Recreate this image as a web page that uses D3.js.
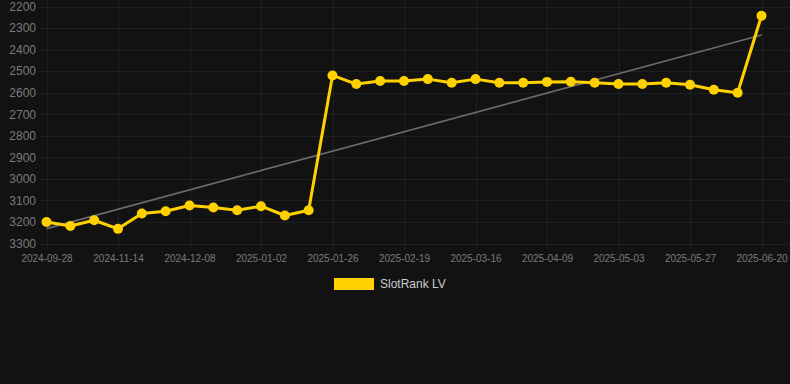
<!DOCTYPE html>
<html>
<head>
<meta charset="utf-8">
<script src="https://cdn.jsdelivr.net/npm/d3@7"></script>
<style>
  html, body { margin: 0; padding: 0; background: #121212; }
  svg { display: block; font-family: "Liberation Sans", Arial, Helvetica, sans-serif; }
</style>
</head>
<body>
<svg id="chart" width="790" height="384"></svg>
<script>
const dates = [
  "2024-09-28", "2024-10-14", "2024-10-29", "2024-11-14", "2024-11-22", "2024-11-30",
  "2024-12-08", "2024-12-16", "2024-12-24", "2025-01-02", "2025-01-10", "2025-01-18",
  "2025-01-26", "2025-02-03", "2025-02-11", "2025-02-19", "2025-02-27", "2025-03-08",
  "2025-03-16", "2025-03-24", "2025-04-01", "2025-04-09", "2025-04-17", "2025-04-25",
  "2025-05-03", "2025-05-11", "2025-05-19", "2025-05-27", "2025-06-04", "2025-06-12",
  "2025-06-20"
];
const rankValues = [
  3200, 3219, 3192, 3232, 3161, 3150,
  3124, 3133, 3146, 3127, 3170, 3146,
  2520, 2560, 2546, 2546, 2537, 2554,
  2537, 2554, 2554, 2550, 2549, 2554,
  2560, 2560, 2554, 2563, 2586, 2600,
  2243
];
const yTicks = [2200, 2300, 2400, 2500, 2600, 2700, 2800, 2900, 3000, 3100, 3200, 3300];
const seriesName = "SlotRank LV";

const W = 790, H = 384;
const svg = d3.select("#chart");
const x = d3.scalePoint().domain(dates).range([46.5, 761.5]);
const y = d3.scaleLinear().domain([2200, 3300]).range([6.5, 243.5]);

const gridColor = "rgba(255,255,255,0.06)";
const labelColor = "#7a7a7a";
const yellow = "#ffd100";

// horizontal grid
svg.append("g").selectAll("line").data(yTicks).join("line")
  .attr("x1", 40).attr("x2", W)
  .attr("y1", d => Math.round(y(d)) + 0.5).attr("y2", d => Math.round(y(d)) + 0.5)
  .attr("stroke", gridColor).attr("stroke-width", 1);

// vertical grid at labelled categories
const labelled = dates.filter((d, i) => i % 3 === 0);
svg.append("g").selectAll("line").data(labelled).join("line")
  .attr("x1", d => Math.round(x(d)) + 0.5).attr("x2", d => Math.round(x(d)) + 0.5)
  .attr("y1", 0).attr("y2", 249)
  .attr("stroke", gridColor).attr("stroke-width", 1);

// y axis labels
const yAxis = d3.axisLeft(y).tickValues(yTicks).tickSize(0).tickPadding(0).tickFormat(d3.format("d"));
const gy = svg.append("g").attr("transform", "translate(36,0)").call(yAxis);
gy.select(".domain").remove();
gy.selectAll("text").attr("fill", labelColor).style("font-size", "12px")
  .style("font-family", '"Liberation Sans", Arial, sans-serif');

// x axis labels
const xAxis = d3.axisBottom(x).tickValues(labelled).tickSize(0).tickPadding(0);
const gx = svg.append("g").attr("transform", "translate(0,255)").call(xAxis);
gx.select(".domain").remove();
gx.selectAll("text").attr("fill", labelColor).style("font-size", "10px")
  .style("font-family", '"Liberation Sans", Arial, sans-serif');

// trend line (least squares)
const n = rankValues.length;
const idx = d3.range(n);
const mx = d3.mean(idx), my = d3.mean(rankValues);
const slope = d3.sum(idx, i => (i - mx) * (rankValues[i] - my)) / d3.sum(idx, i => (i - mx) * (i - mx));
const intercept = my - slope * mx;
svg.append("line")
  .attr("x1", x(dates[0])).attr("y1", y(intercept))
  .attr("x2", x(dates[n - 1])).attr("y2", y(intercept + slope * (n - 1)))
  .attr("stroke", "#6a6a6a").attr("stroke-width", 1.8);

// series line
const line = d3.line().x((d, i) => x(dates[i])).y(d => y(d));
svg.append("path").datum(rankValues)
  .attr("d", line).attr("fill", "none")
  .attr("stroke", yellow).attr("stroke-width", 3).attr("stroke-linejoin", "round");

svg.append("g").selectAll("circle").data(rankValues).join("circle")
  .attr("cx", (d, i) => x(dates[i])).attr("cy", d => y(d))
  .attr("r", 5).attr("fill", yellow);

// legend
const lg = svg.append("g").attr("transform", "translate(334,278)");
lg.append("rect").attr("width", 40).attr("height", 12).attr("fill", yellow);
lg.append("text").attr("x", 46).attr("y", 6).attr("dy", "0.35em")
  .attr("fill", "#cccccc").style("font-size", "12px").text(seriesName);
</script>
</body>
</html>
